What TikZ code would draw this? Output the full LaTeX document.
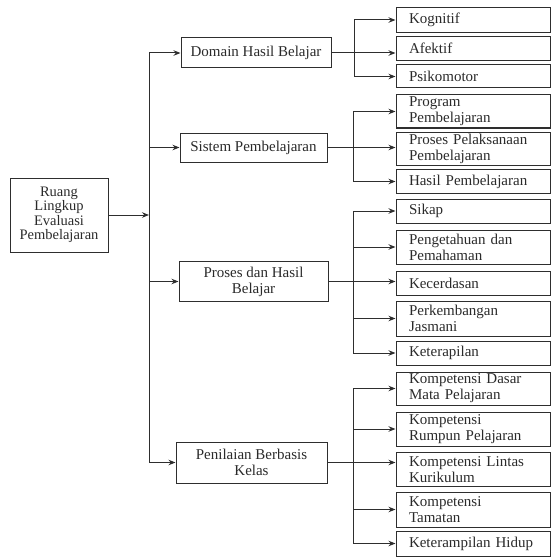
\documentclass[tikz,border=0pt]{standalone}
\usepackage{fontspec}
\setmainfont{Liberation Serif}
\usetikzlibrary{arrows.meta}
\definecolor{ink}{HTML}{2E2E2E}
\definecolor{txt}{HTML}{2A2A2A}
\begin{document}
\begin{tikzpicture}[x=1pt,y=-1pt,
  box/.style={draw=ink, line width=1pt, text=txt, font=\fontsize{15}{16}\selectfont, inner ysep=1pt},
  leaf/.style={box, minimum width=154pt, text width=128pt, inner xsep=13pt, align=left},
  mid/.style={box, align=center, inner xsep=3pt},
  conn/.style={draw=ink, line width=1pt},
  arr/.style={conn, -{Stealth[length=7pt,width=5.5pt]}}
]
\useasboundingbox (0,0) rectangle (551,559);

% root
\node[mid, minimum width=98pt, minimum height=74pt, font=\fontsize{14.5}{14.5}\selectfont] (root) at (59,215) {Ruang\\Lingkup\\Evaluasi\\Pembelajaran};

% level 1
\node[mid, minimum width=150pt, minimum height=30pt] (dom) at (256,53) {Domain Hasil Belajar};
\node[mid, minimum width=147pt, minimum height=29pt] (sis) at (253.5,147.5) {Sistem Pembelajaran};
\node[mid, minimum width=149pt, minimum height=40pt] (pro) at (253.5,281.5) {Proses dan Hasil\\Belajar};
\node[mid, minimum width=151pt, minimum height=41pt] (pen) at (251.5,462.5) {Penilaian Berbasis\\Kelas};

% leaves: domain
\node[leaf, minimum height=25pt] (kog) at (473,20) {Kognitif};
\node[leaf, minimum height=24pt] (afe) at (473,48.5) {Afektif};
\node[leaf, minimum height=23pt] (psi) at (473,76.5) {Psikomotor};
% leaves: sistem
\node[leaf, minimum height=33pt] (prg) at (473,111.5) {Program\\Pembelajaran};
\node[leaf, minimum height=33pt] (ppl) at (473,148.5) {Proses Pelaksanaan\\Pembelajaran};
\node[leaf, minimum height=24pt] (hpb) at (473,181.5) {Hasil Pembelajaran};
% leaves: proses
\node[leaf, minimum height=24pt] (sik) at (473,211) {Sikap};
\node[leaf, minimum height=34pt] (pgt) at (473,247) {Pengetahuan dan\\Pemahaman};
\node[leaf, minimum height=24pt] (kec) at (473,283) {Kecerdasan};
\node[leaf, minimum height=35pt] (pkj) at (473,318.5) {Perkembangan\\Jasmani};
\node[leaf, minimum height=24pt] (ket) at (473,353) {Keterapilan};
% leaves: penilaian
\node[leaf, minimum height=33pt] (kdm) at (473,388.5) {Kompetensi Dasar\\Mata Pelajaran};
\node[leaf, minimum height=34pt] (krp) at (473,429) {Kompetensi\\Rumpun Pelajaran};
\node[leaf, minimum height=34pt] (klk) at (473,469.5) {Kompetensi Lintas\\Kurikulum};
\node[leaf, minimum height=35pt] (ktm) at (473,509.5) {Kompetensi\\Tamatan};
\node[leaf, minimum height=25pt] (khd) at (473,543.5) {Keterampilan Hidup};

% trunk
\coordinate (t) at (149,0);
\draw[conn] (t |- dom) -- (t |- pen);
\draw[arr] (root.east) -- (root.east -| t);
\foreach \b in {dom,sis,pro,pen} \draw[arr] (t |- \b) -- (\b.west);

% domain bracket
\coordinate (b1) at (354,0);
\draw[conn] (b1 |- kog) -- (b1 |- psi);
\draw[arr] (dom.east) -- (dom.east -| afe.west);
\foreach \c in {kog,psi} \draw[arr] (b1 |- \c) -- (\c.west);

% sistem bracket
\coordinate (b2) at (353,0);
\draw[conn] (b2 |- prg) -- (b2 |- hpb);
\draw[arr] (sis.east) -- (sis.east -| ppl.west);
\foreach \c in {prg,hpb} \draw[arr] (b2 |- \c) -- (\c.west);

% proses bracket
\coordinate (b3) at (353,0);
\draw[conn] (b3 |- sik) -- (b3 |- ket);
\draw[arr] (pro.east) -- (pro.east -| kec.west);
\foreach \c in {sik,pgt,pkj,ket} \draw[arr] (b3 |- \c) -- (\c.west);

% penilaian bracket
\coordinate (b4) at (353,0);
\draw[conn] (b4 |- kdm) -- (b4 |- khd);
\draw[arr] (pen.east) -- (pen.east -| klk.west);
\foreach \c in {kdm,krp,ktm,khd} \draw[arr] (b4 |- \c) -- (\c.west);
\end{tikzpicture}
\end{document}
